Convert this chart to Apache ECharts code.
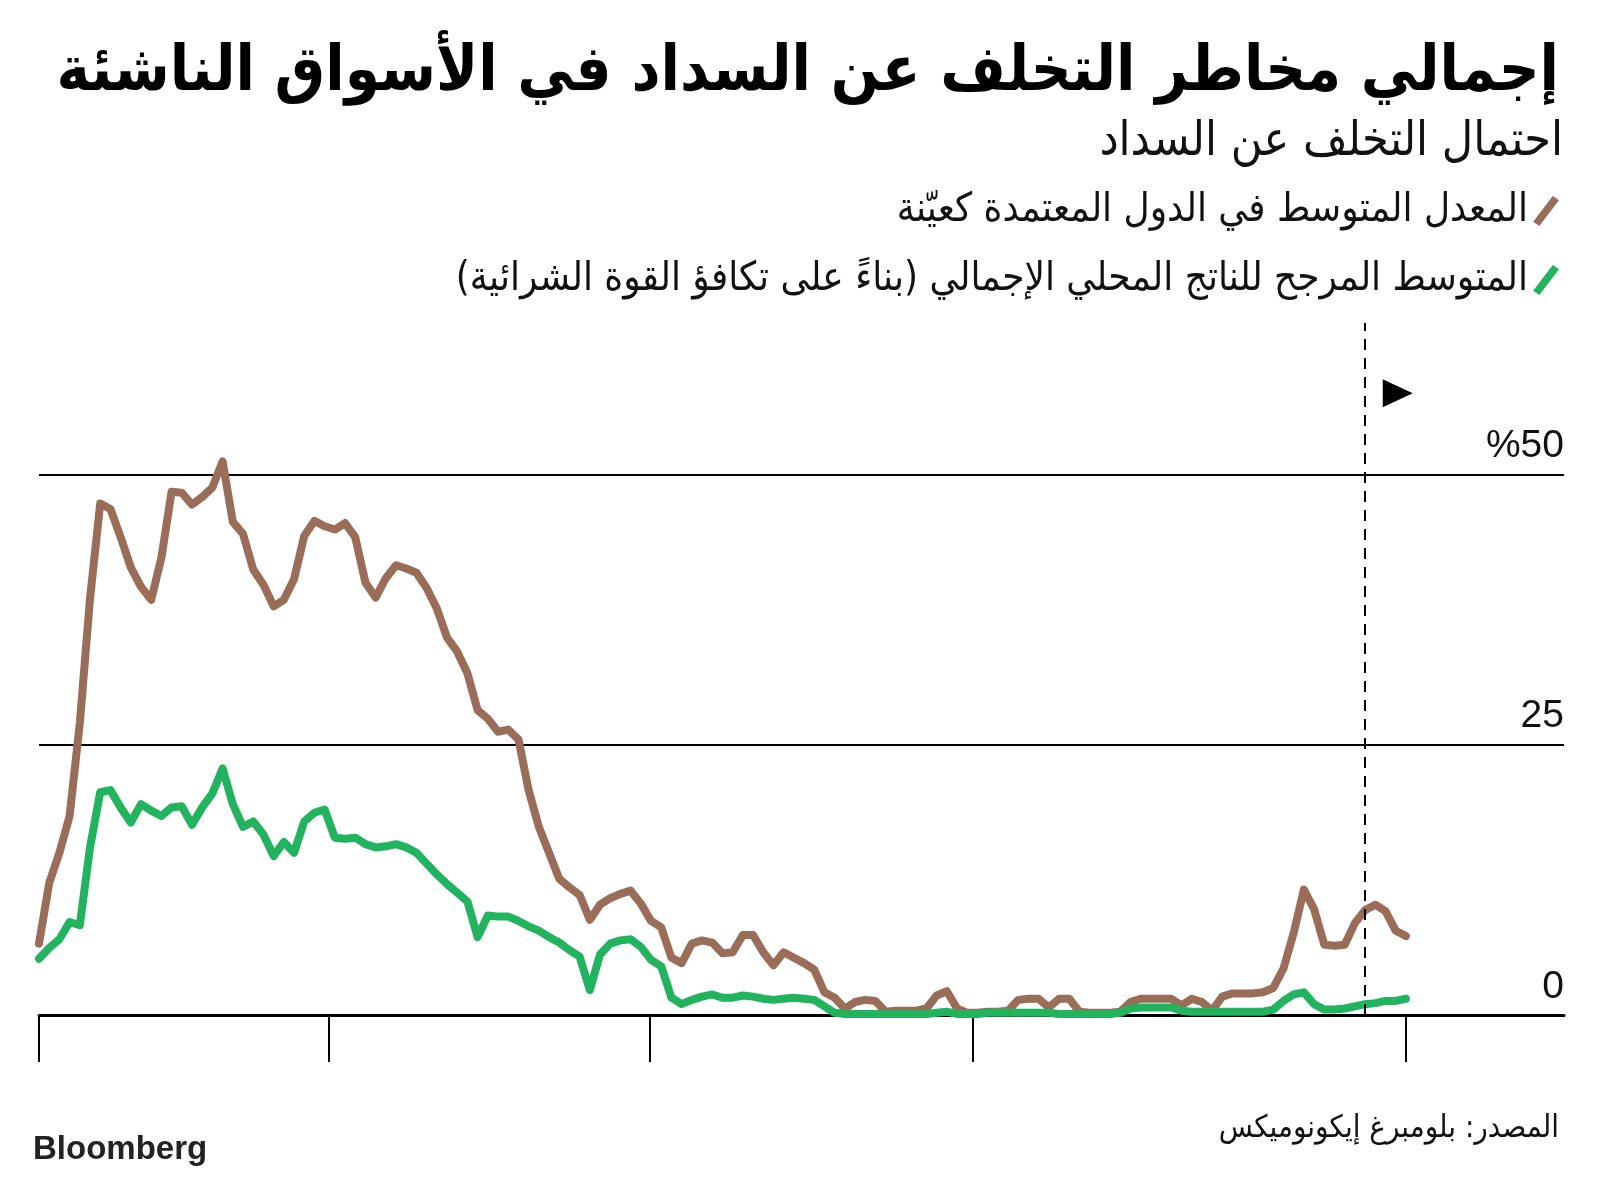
<!DOCTYPE html>
<html lang="ar">
<head>
<meta charset="utf-8">
<script src="https://cdn.jsdelivr.net/npm/echarts@6/dist/echarts.min.js"></script>
<style>
html, body { margin: 0; padding: 0; background: #fff; }
#chart { width: 1600px; height: 1181px; direction: rtl; }
</style>
</head>
<body>
<div id="chart"></div>
<script>
// احتمال التخلف عن السداد، فترات متساوية (بدون تسميات على المحور الأفقي)
const brownName = "المعدل المتوسط في الدول المعتمدة كعيّنة";
const greenName = "المتوسط المرجح للناتج المحلي الإجمالي (بناءً على تكافؤ القوة الشرائية)";

const brownValues = [
  6.6, 12.2, 15.0, 18.4, 27.0, 38.5, 47.3, 46.8, 44.2, 41.4,
  39.6, 38.4, 42.3, 48.4, 48.3, 47.2, 47.9, 48.8, 51.2, 45.6,
  44.5, 41.2, 39.8, 37.8, 38.4, 40.3, 44.3, 45.7, 45.2, 44.9,
  45.5, 44.2, 40.0, 38.6, 40.4, 41.6, 41.3, 40.9, 39.5, 37.6,
  34.9, 33.6, 31.6, 28.2, 27.4, 26.2, 26.4, 25.5, 20.8, 17.4,
  15.0, 12.6, 11.8, 11.1, 8.8, 10.2, 10.8, 11.2, 11.5, 10.3,
  8.7, 8.1, 5.3, 4.8, 6.6, 6.9, 6.7, 5.7, 5.8, 7.4,
  7.4, 5.8, 4.6, 5.8, 5.3, 4.8, 4.2, 2.1, 1.6, 0.6,
  1.2, 1.4, 1.3, 0.3, 0.4, 0.4, 0.4, 0.6, 1.8, 2.2,
  0.6, 0.2, 0.2, 0.3, 0.3, 0.4, 1.4, 1.5, 1.5, 0.7,
  1.5, 1.5, 0.3, 0.2, 0.2, 0.2, 0.3, 1.2, 1.5, 1.5,
  1.5, 1.5, 0.9, 1.5, 1.2, 0.4, 1.7, 2.0, 2.0, 2.0,
  2.1, 2.5, 4.3, 7.6, 11.6, 9.8, 6.5, 6.4, 6.5, 8.5,
  9.7, 10.2, 9.6, 7.8, 7.3
];

const greenValues = [
  5.2, 6.2, 7.0, 8.6, 8.3, 15.5, 20.6, 20.8, 19.2, 17.8,
  19.5, 18.9, 18.4, 19.2, 19.3, 17.6, 19.2, 20.5, 22.8, 19.5,
  17.4, 17.9, 16.7, 14.7, 16.0, 15.0, 17.9, 18.7, 19.0, 16.4,
  16.3, 16.4, 15.8, 15.5, 15.6, 15.8, 15.5, 15.0, 14.0, 13.0,
  12.1, 11.3, 10.5, 7.2, 9.2, 9.1, 9.1, 8.7, 8.2, 7.8,
  7.2, 6.7, 6.0, 5.4, 2.3, 5.6, 6.6, 6.9, 7.0, 6.3,
  5.1, 4.5, 1.6, 1.0, 1.4, 1.7, 1.9, 1.6, 1.6, 1.8,
  1.7, 1.5, 1.4, 1.5, 1.6, 1.5, 1.4, 0.8, 0.2, 0.1,
  0.1, 0.1, 0.1, 0.1, 0.1, 0.1, 0.1, 0.1, 0.2, 0.3,
  0.1, 0.1, 0.1, 0.2, 0.2, 0.2, 0.2, 0.2, 0.2, 0.2,
  0.1, 0.1, 0.1, 0.1, 0.1, 0.1, 0.2, 0.6, 0.7, 0.7,
  0.7, 0.7, 0.4, 0.3, 0.3, 0.3, 0.3, 0.3, 0.3, 0.3,
  0.3, 0.5, 1.3, 1.9, 2.1, 1.0, 0.5, 0.5, 0.6, 0.8,
  1.0, 1.1, 1.3, 1.3, 1.5
];

// علامات المحور الأفقي (بالفترات)
const xTicks = [0, 28.4, 59.9, 91.5, 134];
const yTicks = [0, 25, 50];
const yTickLabels = ["0", "25", "%50"];
// الخط المتقطع والمثلث
const forecastStart = 130;
const arrowPos = [133.2, 57.5];

const arabicFont = "'DejaVu Sans Condensed', 'DejaVu Sans', sans-serif";

const chart = echarts.init(document.getElementById("chart"));

const option = {
  animation: false,
  backgroundColor: "#ffffff",
  title: [
    {
      text: "إجمالي مخاطر التخلف عن السداد في الأسواق الناشئة",
      right: 36,
      top: 37,
      textStyle: { fontFamily: arabicFont, fontSize: 63, fontWeight: "bold", color: "#000" }
    },
    {
      text: "احتمال التخلف عن السداد",
      right: 32,
      top: 114,
      textStyle: { fontFamily: arabicFont, fontSize: 48, fontWeight: "normal", color: "#111" }
    },
    {
      text: "المصدر: بلومبرغ إيكونوميكس",
      right: 36,
      top: 1108,
      textStyle: { fontFamily: arabicFont, fontSize: 31, fontWeight: "normal", color: "#111" }
    },
    {
      text: "Bloomberg",
      left: 28,
      top: 1128,
      textStyle: { fontFamily: "'Liberation Sans', Arial, sans-serif", fontSize: 33, fontWeight: "bold", color: "#222" }
    }
  ],
  legend: {
    orient: "vertical",
    right: 36,
    top: 186,
    align: "right",
    itemGap: 29,
    itemWidth: 26,
    itemHeight: 30,
    textStyle: { fontFamily: arabicFont, fontSize: 40, color: "#111" },
    data: [
      { name: brownName, icon: "path://M0,26 L19,1 L25,5 L6,30 Z" },
      { name: greenName, icon: "path://M0,26 L19,1 L25,5 L6,30 Z" }
    ]
  },
  grid: { left: 39, right: 36, top: 323, bottom: 166 },
  xAxis: {
    type: "value",
    min: 0,
    max: 149.5,
    axisLine: { show: true, onZero: true, lineStyle: { color: "#000", width: 3 } },
    axisTick: { show: true, customValues: xTicks, length: 47, lineStyle: { color: "#000", width: 2 } },
    axisLabel: { show: false },
    splitLine: { show: false }
  },
  yAxis: {
    type: "value",
    position: "right",
    min: 0,
    max: 64,
    axisLine: { show: false },
    axisTick: { show: false, customValues: yTicks },
    splitLine: { show: true, lineStyle: { color: "#000", width: 2 } },
    axisLabel: {
      inside: true,
      margin: 0,
      customValues: yTicks,
      verticalAlign: "bottom",
      lineHeight: 38,
      padding: [0, 0, 9, 0],
      fontFamily: "'Liberation Sans', Arial, sans-serif",
      fontSize: 39,
      color: "#111",
      formatter: function (v) {
        return yTickLabels[yTicks.indexOf(v)];
      }
    }
  },
  series: [
    {
      name: brownName,
      type: "line",
      color: "#9a6d59",
      showSymbol: false,
      lineStyle: { width: 8, cap: "round", join: "round" },
      data: brownValues.map((v, i) => [i, v]),
      z: 3,
      markLine: {
        silent: true,
        symbol: ["none", "none"],
        label: { show: false },
        lineStyle: { color: "#000", width: 2, type: [11, 8] },
        data: [[{ coord: [forecastStart, 0] }, { coord: [forecastStart, 64] }]]
      },
      markPoint: {
        silent: true,
        symbol: "path://M0,0 L12,6 L0,12 Z",
        symbolSize: [30, 28],
        itemStyle: { color: "#000" },
        label: { show: false },
        data: [{ coord: arrowPos }]
      }
    },
    {
      name: greenName,
      type: "line",
      color: "#21b35d",
      showSymbol: false,
      lineStyle: { width: 8, cap: "round", join: "round" },
      data: greenValues.map((v, i) => [i, v]),
      z: 4
    }
  ]
};

chart.setOption(option);
</script>
</body>
</html>
